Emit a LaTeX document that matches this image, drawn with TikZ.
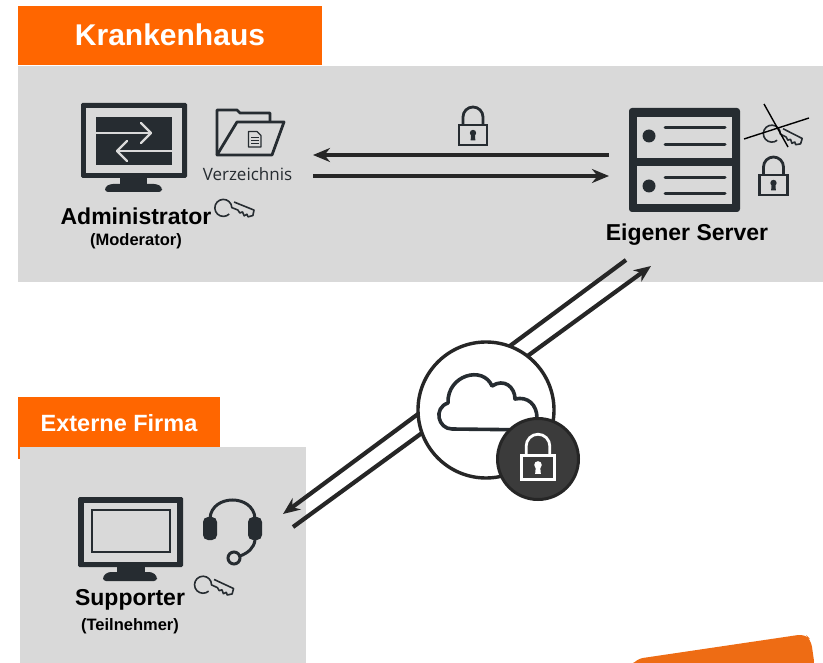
\documentclass[tikz,border=0pt]{standalone}
\usepackage{fontspec}
\setmainfont{Liberation Sans}
\newfontfamily\opensans{Open Sans}
\usetikzlibrary{arrows.meta}
\definecolor{panel}{HTML}{D9D9D9}
\definecolor{orangeA}{HTML}{FF6600}
\definecolor{orangeB}{HTML}{EE6C14}
\definecolor{ink}{HTML}{262C31}
\definecolor{flow}{HTML}{262626}
\definecolor{badge}{HTML}{3B3B3B}
\tikzset{
  x=1pt,y=-1pt,
  panelbox/.style={fill=panel,draw=none},
  tabbox/.style={fill=orangeA,draw=none},
  tabtext/.style={text=white,font=\bfseries,inner sep=0pt,anchor=center},
  role/.style={font=\fontsize{23}{25}\selectfont\bfseries,text=black,inner sep=0pt},
  subrole/.style={font=\fontsize{16.5}{18}\selectfont\bfseries,text=black,inner sep=0pt},
  flowline/.style={draw=flow,line width=4.2pt,-{Stealth[length=17pt,width=14pt]}},
  flowplain/.style={draw=flow,line width=4.2pt},
  keypic/.pic={
    \draw[ink,line width=1.6pt,line join=round,fill=none]
      (7.5,-3) -- (29,-3) -- (30,2.5) -- (26,5.5) -- (24,3.5) -- (22,6) -- (19,3) -- (17,5) -- (14,3)
      -- (7.5,3) arc[start angle=24,end angle=336,x radius=8.5,y radius=-8.5];
  },
  lockpic/.pic={
    \draw[pic actions,line width=2.8pt,fill=none] (-10,0) -- (-10,-8) arc[start angle=180,end angle=0,radius=10,y radius=-10] -- (10,0);
    \draw[pic actions,line width=2.8pt,fill=none] (-14,0) rectangle (14,20);
    \fill[pic actions,draw=none] (0,8) circle[radius=3.2];
    \fill[pic actions,draw=none] (-1.8,9) -- (1.8,9) -- (2.4,15.5) -- (-2.4,15.5) -- cycle;
  },
}
\begin{document}
\begin{tikzpicture}
\useasboundingbox (0,0) rectangle (823,663);
\fill[white] (0,0) rectangle (823,663);

% panels
\fill[panelbox] (18,66) rectangle (823,282);
\fill[tabbox] (18,6) rectangle (322,65);
\node[tabtext,font=\fontsize{30}{32}\selectfont\bfseries] (tabK) at (170,35) {Krankenhaus};
\fill[tabbox] (18,397) rectangle (220,459);
\fill[panelbox] (20,447) rectangle (306,663);
\node[tabtext,font=\fontsize{23.5}{25}\selectfont\bfseries] (tabE) at (119,423) {Externe Firma};

% corner
\fill[orangeB,rounded corners=7pt] (630,668) -- (636,659) -- (805,634) -- (811,640) -- (815,668) -- cycle;

% admin monitor
\fill[ink,rounded corners=1.5pt] (81,103) rectangle (187,178);
\fill[panel] (86,108) rectangle (182,173);
\fill[ink] (96,117) rectangle (172,165);
\fill[ink] (120,178) rectangle (147,186);
\fill[ink,rounded corners=3pt] (105,192) -- (105,187) -- (110,184) -- (157,184) -- (162,187) -- (162,192) -- cycle;
\draw[panel,line width=2.4pt] (96,133) -- (150,133);
\draw[panel,line width=2.4pt,line cap=round,line join=round] (141,123) -- (151,133) -- (141,143);
\draw[panel,line width=2.4pt] (172,151) -- (118,151);
\draw[panel,line width=2.4pt,line cap=round,line join=round] (127,141) -- (117,151) -- (127,161);

% folder
\draw[ink,line width=2.8pt,line join=round,fill=none]
  (217,155) -- (217,110) -- (237,110) -- (240,113) -- (270,113) -- (270,122);
\draw[ink,line width=2.8pt,line join=round,fill=none]
  (237,122) -- (284,122) -- (272,155) -- (217,155) -- cycle;
\draw[ink,line width=1.2pt,line join=round] (248.5,131.5) -- (257,131.5) -- (261,135.5) -- (261,147) -- (248.5,147) -- cycle;
\draw[ink,line width=1pt] (251,138) -- (258.5,138) (251,141) -- (258.5,141) (251,144) -- (258.5,144);
\node[font=\opensans\fontsize{17}{19}\selectfont,text=ink,inner sep=0pt] (verz) at (247.5,174) {Verzeichnis};
\pic[rotate=-22] at (226,202) {keypic};
\node[role] (admin) at (136,216) {Administrator};
\node[subrole] (mod) at (136,241) {(Moderator)};

% server
\fill[ink,rounded corners=3pt] (629,108) rectangle (740,212);
\fill[panel] (637,117) rectangle (732,158);
\fill[panel] (637,166) rectangle (732,204);
\fill[ink] (649,136) circle[radius=6.5];
\fill[ink] (649,186) circle[radius=6.5];
\draw[ink,line width=3pt,line cap=round] (665,128) -- (725,128) (665,145) -- (725,145) (665,178) -- (725,178) (665,194) -- (725,194);
\node[role] (srv) at (687,235) {Eigener Server};
\pic[rotate=-27] at (775,128) {keypic};
\draw[black,line width=1.4pt] (744,139) -- (809,118);
\draw[black,line width=1.4pt] (764,104) -- (788,147);
\pic[ink] at (773.5,175) {lockpic};
\pic[ink] at (473,125) {lockpic};

% flows between admin and server
\coordinate (aIn) at (313,155);
\coordinate (aOut) at (313,176);
\coordinate (sOut) at (609,155);
\coordinate (sIn) at (609,176);
\draw[flowline] (sOut) -- (aIn);
\draw[flowline] (aOut) -- (sIn);

% flows to supporter
\coordinate (dA) at (626,260);
\coordinate (dB) at (283,514);
\coordinate (dC) at (293,527);
\coordinate (dD) at (651,266);
\draw[flowline] (dA) -- (dB);
\draw[flowline] (dC) -- (dD);

% cloud circle
\node[circle,draw=flow,line width=3.4pt,fill=white,minimum size=136pt,inner sep=0pt] (hub) at (486,410) {};
\draw[ink,line width=3.6pt,line join=round,fill=none]
  (452,429) .. controls (438,429) and (433,408) .. (448,403)
  .. controls (447,375) and (483,365) .. (492,386)
  .. controls (504,378) and (515,387) .. (515,399)
  .. controls (528,396) and (537,405) .. (537,418)
  -- (537,430) -- cycle;
\node[circle,draw=flow,line width=3pt,fill=badge,minimum size=81pt,inner sep=0pt] (badge) at (538,459) {};
\pic[white,scale=1.18] at (538,455.5) {lockpic};

% supporter monitor
\fill[ink,rounded corners=1.5pt] (78,497) rectangle (183,567);
\fill[panel] (84,503) rectangle (177,562);
\draw[ink,line width=2.6pt] (92,510) rectangle (170,552);
\fill[ink] (117,567) rectangle (145,575);
\fill[ink,rounded corners=3pt] (103,581) -- (103,576) -- (108,572) -- (152,572) -- (157,576) -- (157,581) -- cycle;

% headset
\draw[ink,line width=3pt] (210,518) .. controls (212,494) and (253,494) .. (255,518);
\fill[ink,rounded corners=5pt] (203,517) rectangle (217,540);
\fill[ink,rounded corners=5pt] (248,517) rectangle (262,540);
\draw[ink,line width=3pt] (255,540) .. controls (254,548) and (248,553) .. (240,556);
\draw[ink,line width=3pt] (234,558) circle[radius=6];
\pic[rotate=-25] at (206,579) {keypic};
\node[role] (sup) at (130,600) {Supporter};
\node[subrole] (teil) at (130,626) {(Teilnehmer)};
\end{tikzpicture}
\end{document}
